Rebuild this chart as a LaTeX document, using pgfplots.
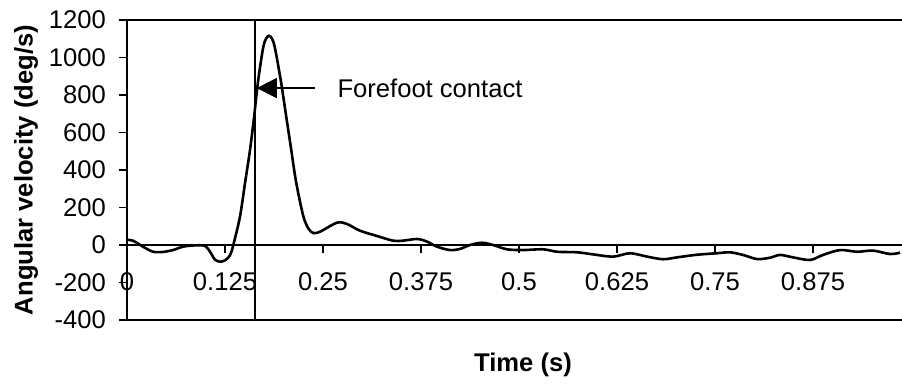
\documentclass[border=0pt]{standalone}
\usepackage{fontspec}
\setmainfont{Liberation Sans}
\usepackage{pgfplots}
\pgfplotsset{compat=1.18}
\usetikzlibrary{arrows.meta}

\begin{document}
\begin{tikzpicture}
% fixed page: axis box is 387.5pt x 150pt, room for labels around it
\path[use as bounding box] (-63.5pt,-32.5pt) rectangle (387.5pt,160pt);
\begin{axis}[
  at={(0,0)}, anchor=south west,
  scale only axis,
  width=387.5pt, height=150pt,
  xmin=0, xmax=0.9885,
  ymin=-400, ymax=1200,
  axis y line=left,
  axis x line=middle,
  axis line style={-},
  y axis line style={line width=1pt},
  x axis line style={line width=0.6pt},
  hide obscured x ticks=false,
  hide obscured y ticks=false,
  xtick={0,0.125,0.25,0.375,0.5,0.625,0.75,0.875},
  xticklabels={0,0.125,0.25,0.375,0.5,0.625,0.75,0.875},
  ytick={-400,-200,0,200,400,600,800,1000,1200},
  tick align=outside,
  major tick length=4pt,
  tick style={black, line width=0.7pt},
  /pgf/number format/assume math mode=true,
  /pgf/number format/1000 sep={},
  tick label style={font=\fontsize{12.8}{15}\selectfont},
  xticklabel style={anchor=center, yshift=-14.5pt},
  yticklabel style={xshift=-3pt},
  label style={font=\fontsize{12.8}{15}\selectfont\bfseries},
  xlabel={Time (s)},
  ylabel={Angular velocity (deg/s)},
  xlabel style={at={(axis description cs:0.511,-0.15)}, anchor=center},
  ylabel style={at={(axis description cs:-0.1303,0.5)}, anchor=center},
  clip=false,
]
% frame lines at the top and bottom of the plot area
\draw[line width=0.85pt] (axis cs:0,1200) -- (axis cs:0.9885,1200);
\draw[line width=0.85pt] (axis cs:0,-400) -- (axis cs:0.9885,-400);

% instant of forefoot contact
\draw[line width=0.9pt] (axis cs:0.163,-400) -- (axis cs:0.163,1200);

% angular velocity trace
\addplot[black, line width=1.3pt, smooth, tension=0.5] coordinates {
  (0.0000,27) (0.0077,23) (0.0204,-9) (0.0332,-36) (0.0459,-37)
  (0.0587,-27) (0.0714,-9) (0.0867,-2) (0.0995,-5) (0.1059,-36)
  (0.1122,-78) (0.1186,-89) (0.1250,-82) (0.1314,-55) (0.1356,0)
  (0.1441,151) (0.1505,329) (0.1569,507) (0.1620,680) (0.1671,871)
  (0.1735,1049) (0.1773,1100) (0.1811,1116) (0.1850,1100) (0.1888,1049)
  (0.1964,871) (0.2028,693) (0.2092,516) (0.2156,338) (0.2245,160)
  (0.2309,91) (0.2372,64) (0.2462,71) (0.2679,119) (0.2806,112)
  (0.2972,76) (0.3189,48) (0.3393,23) (0.3520,23) (0.3699,32)
  (0.3827,18) (0.3954,-9) (0.4120,-27) (0.4247,-21) (0.4375,0)
  (0.4528,12) (0.4668,0) (0.4847,-23) (0.5051,-27) (0.5306,-23)
  (0.5485,-36) (0.5740,-39) (0.5944,-50) (0.6199,-62) (0.6416,-44)
  (0.6633,-62) (0.6837,-76) (0.7015,-66) (0.7270,-52) (0.7526,-44)
  (0.7691,-39) (0.7857,-53) (0.8036,-75) (0.8202,-68) (0.8329,-53)
  (0.8495,-66) (0.8712,-80) (0.8878,-53) (0.9094,-27) (0.9311,-36)
  (0.9515,-30) (0.9732,-48) (0.9860,-41)
};

% annotation
\draw[line width=0.6pt, -{Triangle[length=10pt,width=10pt]}]
  (axis cs:0.240,837) -- (axis cs:0.1655,837);
\node[anchor=base west, inner sep=0pt, font=\fontsize{12.8}{15}\selectfont]
  at (axis cs:0.268,789) {Forefoot contact};
\end{axis}
\end{tikzpicture}
\end{document}
